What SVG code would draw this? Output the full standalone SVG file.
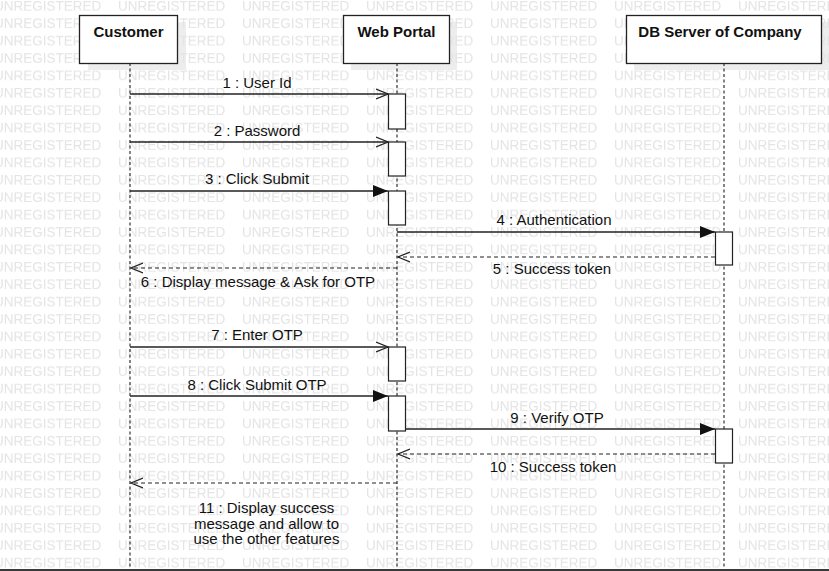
<svg xmlns="http://www.w3.org/2000/svg" width="829" height="571" viewBox="0 0 829 571">
<defs>
<style>
.wm{font-family:"Liberation Sans",Arial,sans-serif;font-size:13.5px;fill:#e4e4e4}
.box{fill:#fff;stroke:#222;stroke-width:1.3}
.shadow{fill:#000;fill-opacity:0.07}
.title{font-family:"Liberation Sans",Arial,sans-serif;font-size:15px;font-weight:bold;fill:#111;text-anchor:middle}
.life{stroke:#333;stroke-width:1.2;stroke-dasharray:3 2.5;fill:none}
.act{fill:#fff;stroke:#222;stroke-width:1.2}
.msg{stroke:#222;stroke-width:1.3;fill:none}
.ret{stroke:#222;stroke-width:1.2;stroke-dasharray:4 3;fill:none}
.lbl{font-family:"Liberation Sans",Arial,sans-serif;font-size:15px;fill:#111;text-anchor:middle}
</style>
<pattern id="wmpat" patternUnits="userSpaceOnUse" x="-6" y="0" width="124" height="17.4">
<text class="wm" x="0" y="11">UNREGISTERED</text>
</pattern>
<marker id="open" markerWidth="14" markerHeight="12" refX="12" refY="6" orient="auto" markerUnits="userSpaceOnUse">
<path d="M0,1 L12,6 L0,11" fill="none" stroke="#222" stroke-width="1.3"/>
</marker>
<marker id="filled" markerWidth="16" markerHeight="14" refX="15" refY="7" orient="auto" markerUnits="userSpaceOnUse">
<path d="M0,1 L15,7 L0,13 Z" fill="#111"/>
</marker>
</defs>
<rect x="0" y="0" width="829" height="571" fill="#fff"/>
<g id="shadows">
<rect class="shadow" x="88" y="22" width="98" height="48"/>
<rect class="shadow" x="351" y="22" width="106" height="48"/>
<rect class="shadow" x="634" y="22" width="195" height="48"/>
</g>
<rect x="0" y="0" width="829" height="571" fill="url(#wmpat)"/>
<g id="lifelines">
<line class="life" x1="130" y1="63" x2="130" y2="569"/>
<line class="life" x1="397" y1="63" x2="397" y2="569"/>
<line class="life" x1="724" y1="63" x2="724" y2="569"/>
</g>
<g id="customer">
<rect class="box" x="79.5" y="15.5" width="98" height="48"/>
<text class="title" x="128.5" y="37">Customer</text>
</g>
<g id="webportal">
<rect class="box" x="343.5" y="15.5" width="106" height="48"/>
<text class="title" x="396.5" y="37">Web Portal</text>
</g>
<g id="dbserver">
<rect class="box" x="626.5" y="15.5" width="195" height="48"/>
<text class="title" x="720" y="37">DB Server of Company</text>
</g>
<g id="activations">
<rect class="act" x="388.5" y="94" width="17" height="35"/>
<rect class="act" x="388.5" y="142" width="17" height="34"/>
<rect class="act" x="388.5" y="191" width="17" height="34"/>
<rect class="act" x="715.5" y="232" width="17" height="33"/>
<rect class="act" x="388.5" y="347" width="17" height="34"/>
<rect class="act" x="388.5" y="396" width="17" height="35"/>
<rect class="act" x="715.5" y="429" width="17" height="34"/>
</g>
<g id="connectors">
<line class="msg" x1="130" y1="94" x2="388" y2="94" marker-end="url(#open)"/>
<line class="msg" x1="130" y1="142" x2="388" y2="142" marker-end="url(#open)"/>
<line class="msg" x1="130" y1="191" x2="388" y2="191" marker-end="url(#filled)"/>
<line class="msg" x1="397" y1="232" x2="715" y2="232" marker-end="url(#filled)"/>
<line class="ret" x1="715" y1="257" x2="398" y2="257" marker-end="url(#open)"/>
<line class="ret" x1="397" y1="268" x2="131" y2="268" marker-end="url(#open)"/>
<line class="msg" x1="130" y1="347" x2="388" y2="347" marker-end="url(#open)"/>
<line class="msg" x1="130" y1="396" x2="388" y2="396" marker-end="url(#filled)"/>
<line class="msg" x1="405" y1="429" x2="715" y2="429" marker-end="url(#filled)"/>
<line class="ret" x1="715" y1="454" x2="398" y2="454" marker-end="url(#open)"/>
<line class="ret" x1="397" y1="483" x2="131" y2="483" marker-end="url(#open)"/>
</g>
<g id="labels">
<text class="lbl" x="257" y="88">1 : User Id</text>
<text class="lbl" x="257" y="136">2 : Password</text>
<text class="lbl" x="257" y="184">3 : Click Submit</text>
<text class="lbl" x="554" y="225">4 : Authentication</text>
<text class="lbl" x="552" y="274">5 : Success token</text>
<text class="lbl" x="258" y="287">6 : Display message &amp; Ask for OTP</text>
<text class="lbl" x="257" y="340">7 : Enter OTP</text>
<text class="lbl" x="257" y="390">8 : Click Submit OTP</text>
<text class="lbl" x="557" y="423">9 : Verify OTP</text>
<text class="lbl" x="553" y="472">10 : Success token</text>
<text class="lbl" x="266.5" y="513">11 : Display success</text>
<text class="lbl" x="266.5" y="528.5">message and allow to</text>
<text class="lbl" x="266.5" y="544">use the other features</text>
</g>
<rect x="0" y="569" width="829" height="2" fill="#3a3a3a"/>
</svg>
